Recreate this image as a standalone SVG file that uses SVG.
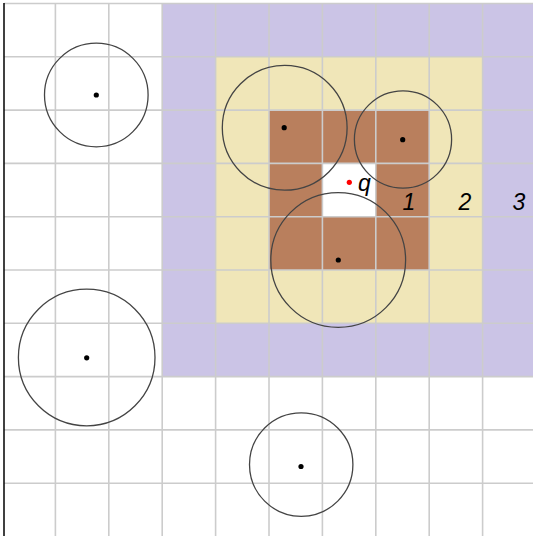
<svg xmlns="http://www.w3.org/2000/svg" width="533" height="536" viewBox="0 0 533 536">
<style>
.grid line{stroke:#cccccc;stroke-width:1.6}
.ring{fill:none;stroke:#444444;stroke-width:1.3}
.dot{fill:#000000}
.lbl{font-family:"Liberation Sans",Arial,sans-serif;font-style:italic;font-size:23px;fill:#000000}
</style>
<rect x="0" y="0" width="533" height="536" fill="#ffffff"/>
<g id="zone3"><rect x="162.2" y="3.5" width="373.8" height="373.1" fill="#cbc4e6"/></g>
<g id="zone2"><rect x="215.6" y="56.8" width="267" height="266.5" fill="#f0e6b8"/></g>
<g id="zone1">
<rect x="269" y="110.1" width="160.2" height="159.9" fill="#b97f5d"/>
<rect x="322.4" y="163.4" width="53.4" height="53.3" fill="#ffffff"/>
</g>
<g class="grid" id="grid">
<line x1="55.4" y1="3.5" x2="55.4" y2="536"/>
<line x1="108.8" y1="3.5" x2="108.8" y2="536"/>
<line x1="162.2" y1="3.5" x2="162.2" y2="536"/>
<line x1="215.6" y1="3.5" x2="215.6" y2="536"/>
<line x1="269" y1="3.5" x2="269" y2="536"/>
<line x1="322.4" y1="3.5" x2="322.4" y2="536"/>
<line x1="375.8" y1="3.5" x2="375.8" y2="536"/>
<line x1="429.2" y1="3.5" x2="429.2" y2="536"/>
<line x1="482.6" y1="3.5" x2="482.6" y2="536"/>
<line x1="4" y1="3.5" x2="533" y2="3.5"/>
<line x1="4" y1="56.8" x2="533" y2="56.8"/>
<line x1="4" y1="110.1" x2="533" y2="110.1"/>
<line x1="4" y1="163.4" x2="533" y2="163.4"/>
<line x1="4" y1="216.7" x2="533" y2="216.7"/>
<line x1="4" y1="270" x2="533" y2="270"/>
<line x1="4" y1="323.3" x2="533" y2="323.3"/>
<line x1="4" y1="376.6" x2="533" y2="376.6"/>
<line x1="4" y1="429.9" x2="533" y2="429.9"/>
<line x1="4" y1="483.2" x2="533" y2="483.2"/>
</g>
<line x1="4" y1="3" x2="4" y2="536" stroke="#000000" stroke-width="1.5"/>
<g id="c1"><circle class="ring" cx="96.3" cy="95" r="51.8"/><circle class="dot" cx="96.3" cy="95" r="2.6"/></g>
<g id="c2"><circle class="ring" cx="284.7" cy="127.8" r="62.4"/><circle class="dot" cx="284.2" cy="127.7" r="2.6"/></g>
<g id="c3"><circle class="ring" cx="403" cy="139.5" r="48.6"/><circle class="dot" cx="402.7" cy="139.7" r="2.6"/></g>
<g id="c4"><circle class="ring" cx="338.2" cy="260" r="67.4"/><circle class="dot" cx="338.3" cy="260" r="2.6"/></g>
<g id="c5"><circle class="ring" cx="86.7" cy="357.5" r="68.3"/><circle class="dot" cx="86.7" cy="357.8" r="2.6"/></g>
<g id="c6"><circle class="ring" cx="301.2" cy="464.6" r="51.7"/><circle class="dot" cx="301" cy="466.5" r="2.6"/></g>
<g id="query"><circle cx="349.3" cy="182.3" r="2.6" fill="#ff0000"/><text class="lbl" x="358" y="191">q</text></g>
<g id="labels">
<text class="lbl" x="409" y="210" text-anchor="middle">1</text>
<text class="lbl" x="465" y="210" text-anchor="middle">2</text>
<text class="lbl" x="519" y="210" text-anchor="middle">3</text>
</g>
</svg>
